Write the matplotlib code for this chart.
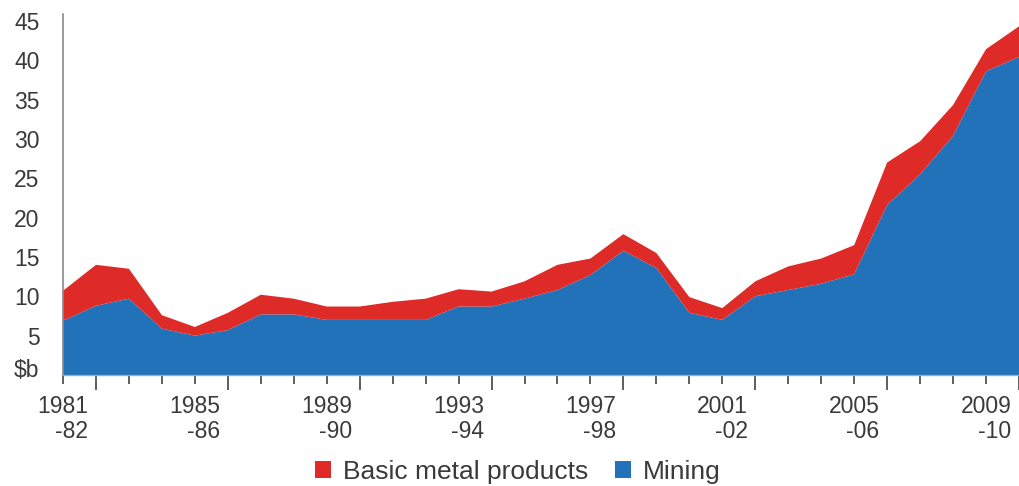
import matplotlib
matplotlib.use("Agg")
import matplotlib.pyplot as plt
import matplotlib.transforms as mtransforms
from matplotlib.patches import Rectangle
import numpy as np

# Financial years 1981-82 .. 2010-11
start_years = list(range(1981, 2011))

# $ billion, by financial year
mining = [6.9, 8.8, 9.7, 5.9, 5.0, 5.7, 7.7, 7.7, 7.0, 7.0,
          7.0, 7.0, 8.7, 8.7, 9.7, 10.8, 12.7, 15.8, 13.6, 7.9,
          7.0, 10.0, 10.8, 11.6, 12.8, 21.6, 25.5, 30.4, 38.6, 40.4]
basic_metal = [3.8, 5.2, 3.8, 1.7, 1.1, 2.2, 2.5, 2.0, 1.7, 1.7,
               2.3, 2.7, 2.2, 1.9, 2.2, 3.2, 2.1, 2.1, 1.9, 2.0,
               1.5, 1.9, 3.0, 3.2, 3.7, 5.4, 4.2, 3.9, 2.8, 3.9]

y_ticks = [0, 5, 10, 15, 20, 25, 30, 35, 40, 45]
y_tick_labels = ["$b", "5", "10", "15", "20", "25", "30", "35", "40", "45"]
series_names = ["Basic metal products", "Mining"]

BLUE = "#2272B9"
RED = "#DF2B27"
TEXT = "#3a3a3a"

plt.rcParams["font.family"] = ["Liberation Sans", "DejaVu Sans"]

W, H = 1019, 486
fig = plt.figure(figsize=(W / 100, H / 100), dpi=100)
ax = fig.add_axes([63 / W, 111 / H, (W - 63) / W, 361 / H])

x = np.arange(len(start_years))
ax.stackplot(x, mining, basic_metal, colors=[BLUE, RED], linewidth=0)

ax.set_xlim(0, len(start_years) - 1)
ax.set_ylim(0, 45.87)

# y axis: labels only, no tick marks
ax.set_yticks(y_ticks)
ax.set_yticklabels(y_tick_labels)
ax.tick_params(axis="y", length=0, pad=17, labelsize=16.5, labelcolor=TEXT)
# the unit label sits a little above the baseline
unit_label = ax.get_yticklabels()[0]
unit_label.set_transform(unit_label.get_transform() +
                         mtransforms.ScaledTranslation(0, 7 / 100, fig.dpi_scale_trans))

# x axis: short ticks with labels every four years, long ticks offset by one
long_idx = [i for i in x if i % 4 == 1]
short_idx = [i for i in x if i % 4 != 1]
short_labels = []
for i in short_idx:
    if i % 4 == 0:
        y0 = start_years[i]
        short_labels.append(f"{y0}\n-{(y0 + 1) % 100:02d}")
    else:
        short_labels.append("")
ax.set_xticks(short_idx)
ax.set_xticklabels(short_labels, multialignment="right", linespacing=1.08)
ax.set_xticks(long_idx, minor=True)
ax.tick_params(axis="x", which="major", length=6.5, width=1.1, color="#333333",
               pad=8, labelsize=16.5, labelcolor=TEXT)
ax.tick_params(axis="x", which="minor", length=10.8, width=1.1, color="#333333")

for side in ("top", "right"):
    ax.spines[side].set_visible(False)
ax.spines["left"].set_color("#8a8a8a")
ax.spines["left"].set_linewidth(1.2)
ax.spines["bottom"].set_color("#86b1de")
ax.spines["bottom"].set_linewidth(1.0)

handles = [Rectangle((0, 0), 1, 1, facecolor=RED, edgecolor="none"),
           Rectangle((0, 0), 1, 1, facecolor=BLUE, edgecolor="none")]
leg = fig.legend(handles, series_names, loc="center", ncol=2,
                 bbox_to_anchor=(518 / W, 1 - 472 / H), frameon=False,
                 fontsize=19, handlelength=0.62, handleheight=0.62,
                 handletextpad=0.45, columnspacing=1.0)
for t in leg.get_texts():
    t.set_color(TEXT)

fig.savefig("out.png", dpi=100)
